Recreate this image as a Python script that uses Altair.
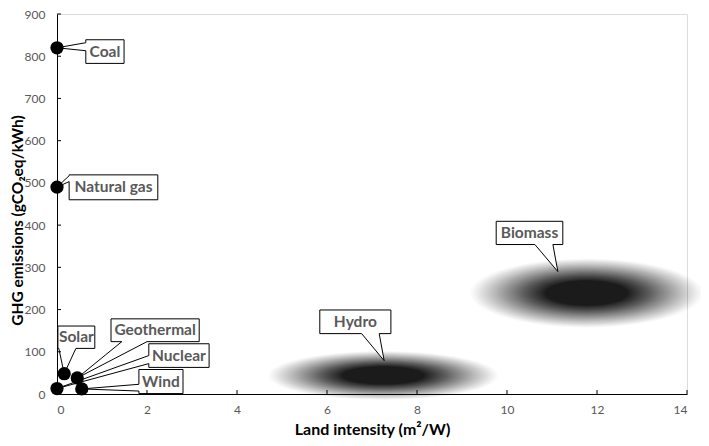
import altair as alt
import pandas as pd

# ---------------- data ----------------
sources = ["Coal", "Natural gas", "Solar", "Geothermal", "Nuclear", "Wind"]
land_intensity = [0.0, 0.0, 0.16, 0.45, 0.0, 0.55]
ghg = [820, 490, 48, 38, 13, 12]

range_sources = ["Hydro", "Biomass"]
range_land = [7.25, 11.77]
range_ghg = [44, 239]
range_land_half = [2.55, 2.58]
range_ghg_half = [58, 82]

x_ticks = [0, 2, 4, 6, 8, 10, 12, 14]
y_ticks = [0, 100, 200, 300, 400, 500, 600, 700, 800, 900]

# ---------------- callout layout (data units) ----------------
callout_names = ["Coal", "Natural gas", "Solar", "Geothermal", "Nuclear", "Wind", "Hydro", "Biomass"]
box_x1 = [0.64, 0.27, 0.02, 1.20, 2.04, 1.82, 5.84, 9.76]
box_x2 = [1.49, 2.24, 0.84, 3.16, 3.38, 2.80, 7.42, 11.24]
box_y1 = [783, 460, 108, 124, 63, 1, 143, 354]
box_y2 = [839, 519, 161, 178, 119, 58, 199, 409]
tail_side = ["left", "left", "bottom", "bottom", "left", "left", "bottom", "bottom"]
tail_a = [832, 517, 0.04, 1.44, 91, 23, 6.77, 10.62]
tail_b = [813, 503, 0.42, 2.00, 72, 7, 7.16, 11.02]
tip_x = land_intensity + [7.27, 11.13]
tip_y = ghg + [79, 290]

# ---------------- geometry / style ----------------
WIDTH, HEIGHT = 630, 380
X_MAX, Y_MAX = 14, 900
PX = WIDTH / X_MAX
PY = HEIGHT / Y_MAX
FONT = "Lato"
GREY = "#595959"

# shaded ellipses: concentric translucent symbols
N_LEVELS, CORE, DMAX, GAMMA = 32, 0.36, 0.88, 1.1
K = 0.5523
ell_rows = []
for name, cx, cy, sx, sy in zip(range_sources, range_land, range_ghg, range_land_half, range_ghg_half):
    hw = sx * PX
    hh = sy * PY
    a = hh / hw
    ka = K * a
    path = (f"M-1,0 C-1,{-ka:.4f} {-K},{-a:.4f} 0,{-a:.4f} "
            f"C{K},{-a:.4f} 1,{-ka:.4f} 1,0 "
            f"C1,{ka:.4f} {K},{a:.4f} 0,{a:.4f} "
            f"C{-K},{a:.4f} -1,{ka:.4f} -1,0 Z")
    prev = 0.0
    for k in range(N_LEVELS):
        s = 1 - (1 - CORE) * k / (N_LEVELS - 1)
        d = DMAX * ((k + 1) / N_LEVELS) ** GAMMA
        op = 1 - (1 - d) / (1 - prev)
        prev = d
        ell_rows.append(dict(name=name, x=cx, y=cy, size=(2 * hw * s) ** 2, shape=path, op=op, lvl=k))
ell_df = pd.DataFrame(ell_rows)

poly_rows = []
for i, nm in enumerate(callout_names):
    x1, x2, y1, y2 = box_x1[i], box_x2[i], box_y1[i], box_y2[i]
    lo, hi = min(tail_a[i], tail_b[i]), max(tail_a[i], tail_b[i])
    tx, ty = tip_x[i], tip_y[i]
    if tail_side[i] == "left":
        verts = [(x1, y2), (x2, y2), (x2, y1), (x1, y1), (x1, lo), (tx, ty), (x1, hi)]
    else:
        verts = [(x1, y2), (x2, y2), (x2, y1), (hi, y1), (tx, ty), (lo, y1), (x1, y1)]
    for j, (vx, vy) in enumerate(verts):
        poly_rows.append(dict(name=nm, i=j, x=vx, y=vy))
poly_df = pd.DataFrame(poly_rows)

text_df = pd.DataFrame({
    "name": callout_names,
    "x": [(a + b) / 2 for a, b in zip(box_x1, box_x2)],
    "y": [(a + b) / 2 for a, b in zip(box_y1, box_y2)],
})
pts_df = pd.DataFrame({"name": sources, "x": land_intensity, "y": ghg})
xt_df = pd.DataFrame({"x": x_ticks[1:]})
yt_df = pd.DataFrame({"y": y_ticks[1:]})

x_axis = alt.Axis(values=x_ticks, title="Land intensity (m²/W)", grid=False, ticks=False, tickSize=0,
                  labelPadding=10, labelFont=FONT, labelFontSize=12, labelColor=GREY,
                  domainColor="black", domainWidth=1,
                  titleFont=FONT, titleFontSize=16, titleFontWeight="bold", titleColor="black",
                  titleY=40, titleBaseline="alphabetic")
y_axis = alt.Axis(values=y_ticks, title="GHG emissions (gCO₂eq/kWh)", grid=False, ticks=False, tickSize=0,
                  labelPadding=12, labelFont=FONT, labelFontSize=12, labelColor=GREY,
                  domainColor="black", domainWidth=1,
                  titleFont=FONT, titleFontSize=15.5, titleFontWeight="bold", titleColor="black",
                  titleAngle=270, titleX=-40, titleY=206, titleBaseline="middle", titleAlign="center")

xs = alt.Scale(domain=[0, X_MAX], nice=False, zero=False)
ys = alt.Scale(domain=[0, Y_MAX], nice=False, zero=False)
X = alt.X("x:Q", scale=xs, axis=x_axis)
Y = alt.Y("y:Q", scale=ys, axis=y_axis)

ellipses = alt.Chart(ell_df).mark_point(filled=True, color="black", strokeWidth=0).encode(
    x=X, y=Y,
    shape=alt.Shape("shape:N", scale=None),
    size=alt.Size("size:Q", scale=None),
    opacity=alt.Opacity("op:Q", scale=None),
    detail="lvl:O",
)

callouts = alt.Chart(poly_df).mark_line(
    interpolate="linear-closed", fill="white", stroke="black", strokeWidth=1
).encode(x=X, y=Y, detail="name:N", order="i:Q")

labels = alt.Chart(text_df).mark_text(
    font=FONT, fontSize=15.5, fontWeight="bold", color=GREY, align="center", baseline="middle"
).encode(x=X, y=Y, text="name:N")

points = alt.Chart(pts_df).mark_circle(size=175, color="black", opacity=1).encode(x=X, y=Y)

xticks = alt.Chart(xt_df).mark_rule(color="black", strokeWidth=1).encode(
    x=X, y=alt.value(HEIGHT), y2=alt.value(HEIGHT - 4))
yticks = alt.Chart(yt_df).mark_rule(color="black", strokeWidth=1).encode(
    y=Y, x=alt.value(0), x2=alt.value(4))

chart = alt.layer(ellipses, callouts, labels, points, xticks, yticks).properties(
    width=WIDTH, height=HEIGHT,
    autosize=alt.AutoSizeParams(type="none"),
    padding={"left": 49, "top": 6, "right": 14, "bottom": 44},
).configure_view(stroke=None).configure(background="white")

chart.save("out.html", embed_options={"renderer": "svg", "actions": False})
